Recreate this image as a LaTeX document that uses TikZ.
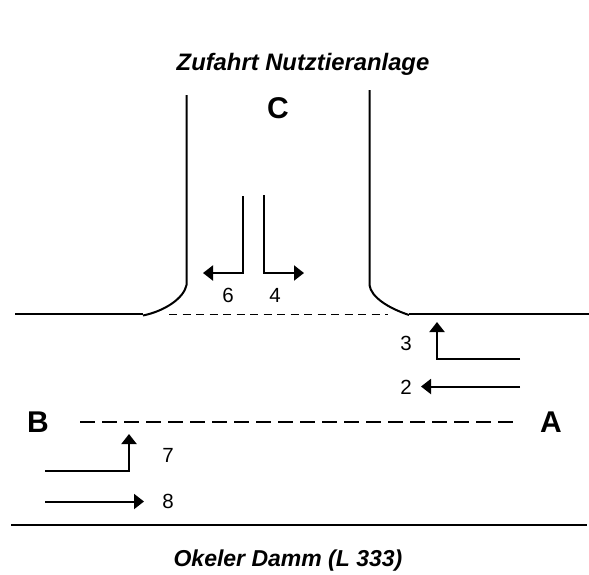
\documentclass[tikz,border=0pt]{standalone}
\usepackage{fontspec}
\setmainfont{Liberation Sans}
\usetikzlibrary{arrows.meta}
\tikzset{
  road/.style={line width=2pt,black},
  dash line/.style={line width=1.9pt,black,dash pattern=on 15pt off 7pt},
  kerb dash/.style={line width=1.7pt,black,dash pattern=on 8pt off 5.5pt},
  turn/.style={line width=2pt,black,-{Triangle[length=10pt,width=15pt]}},
  num/.style={inner sep=0pt,font=\fontsize{20.5}{22}\selectfont},
  big/.style={inner sep=0pt,font=\fontsize{30}{32}\selectfont\bfseries},
  caption/.style={inner sep=0pt,font=\fontsize{23.8}{26}\selectfont\bfseries\itshape},
  caption low/.style={inner sep=0pt,font=\fontsize{23}{26}\selectfont\bfseries\itshape}
}
\begin{document}
\begin{tikzpicture}[x=1pt,y=-1pt]
\useasboundingbox (0,0) rectangle (589,574);
\node[caption] (title) at (303,64) {Zufahrt Nutztieranlage};
\node[caption low] (road) at (288,561) {Okeler Damm (L 333)};
\node[big] (C) at (278,108) {C};
\node[big] (A) at (551,422) {A};
\node[big] (B) at (38,422) {B};
\node[num] (n6) at (228,295) {6};
\node[num] (n4) at (275,295) {4};
\node[num] (n3) at (406,343) {3};
\node[num] (n2) at (406,387) {2};
\node[num] (n7) at (168,455) {7};
\node[num] (n8) at (168,501) {8};
% kerbs
\draw[road] (15,314) -- (143,314);
\draw[road] (143,315.5) .. controls (165,311) and (184,298) .. (186.5,285) -- (186.5,95);
\draw[road] (369.5,90) -- (369.5,285) .. controls (371,297) and (388,308) .. (409,315);
\draw[road] (409,314) -- (589,314);
\draw[road] (11,525) -- (587,525);
% dashed
\draw[kerb dash] (169,314.5) -- (388,314.5);
\draw[dash line] (80,422) -- (514,422);
% turning arrows
\draw[turn] (243,196) -- (243,273) -- (203,273);
\draw[turn] (264,195) -- (264,273) -- (304,273);
\draw[turn] (520,359) -- (437,359) -- (437,322);
\draw[turn] (520,386.5) -- (421,386.5);
\draw[turn] (45,470.5) -- (129,470.5) -- (129,434);
\draw[turn] (45,501.5) -- (144,501.5);
\end{tikzpicture}
\end{document}
